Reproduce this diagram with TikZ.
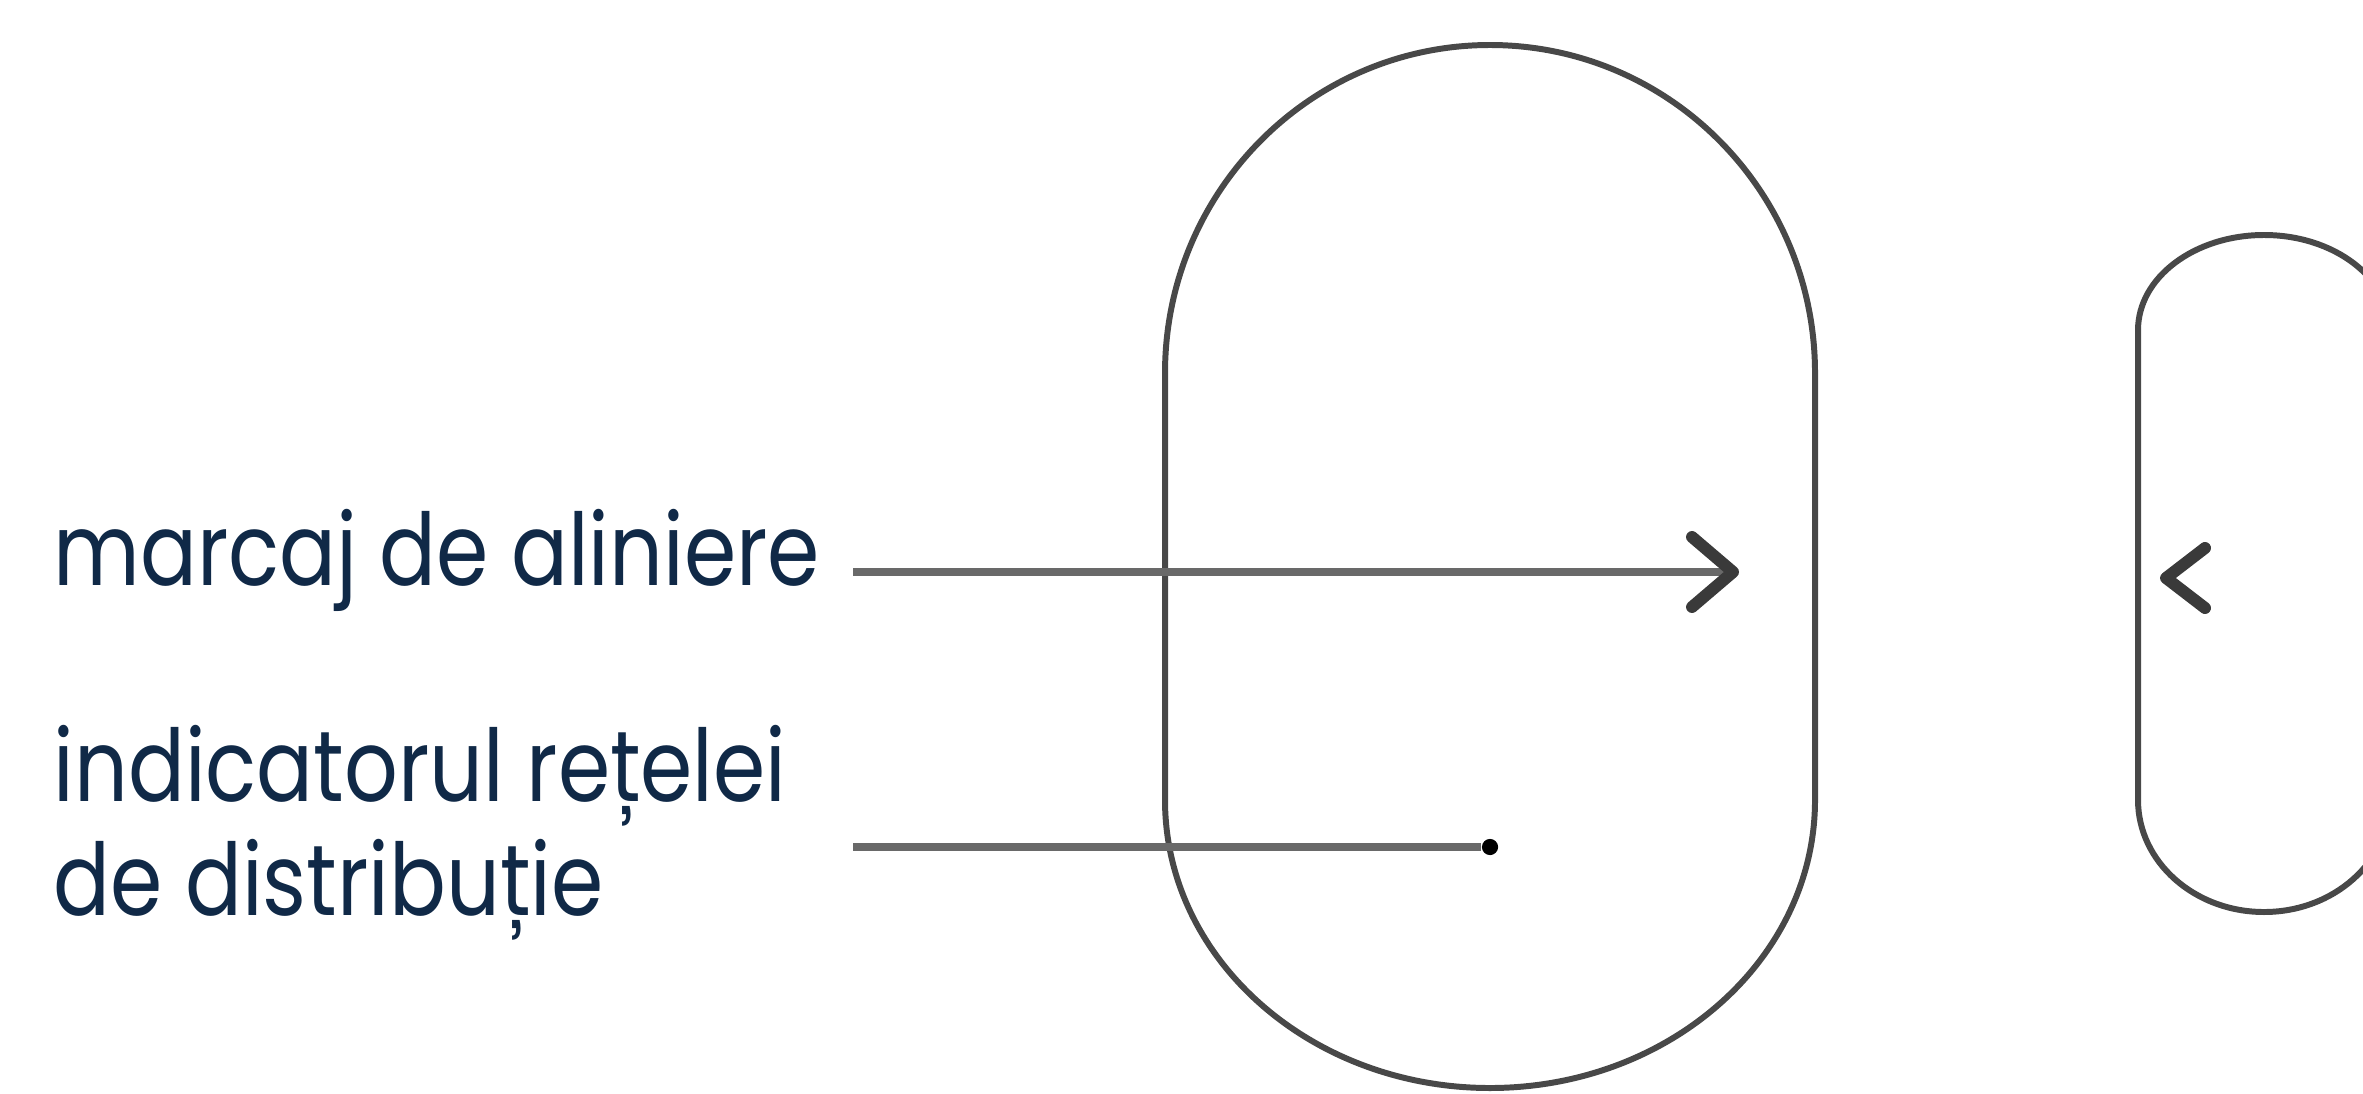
\documentclass[tikz,border=0pt]{standalone}
\usepackage{fontspec}
\setmainfont{Poppins}[FakeStretch=0.84]
\usetikzlibrary{positioning, calc}
\definecolor{labelnavy}{RGB}{16,41,71}
\definecolor{outlinegray}{RGB}{72,72,72}
\definecolor{leadgray}{RGB}{105,105,105}
\definecolor{chevgray}{RGB}{58,58,58}

\begin{document}
\begin{tikzpicture}[x=0.1mm, y=-0.1mm,
  every node/.style={inner sep=0pt},
  labeltext/.style={font=\fontsize{28.5}{32.3}\selectfont, text=labelnavy, align=left, anchor=base west},
  outline/.style={draw=outlinegray, line width=1.7pt},
  lead/.style={draw=leadgray, line width=2.3pt},
  chev/.style={draw=chevgray, line width=3.4pt, line cap=round, line join=round},
  dotend/.style={circle, fill=black, minimum size=4.6pt}]
\clip (0,0) rectangle (2363,1093);

% device outlines
\draw[outline] (1165,373) -- (1165,800)
  arc[start angle=180, end angle=0, x radius=325, y radius=288]
  -- (1815,373)
  arc[start angle=0, end angle=-180, x radius=325, y radius=328] -- cycle;
\draw[outline] (2138,330) -- (2138,800)
  arc[start angle=180, end angle=0, x radius=126, y radius=112]
  -- (2390,330)
  arc[start angle=0, end angle=-180, x radius=126, y radius=95] -- cycle;

% labels
\node[labeltext] (alignlabel) at (53,585) {marcaj de aliniere};
\node[labeltext] (netlabel) at (53,915) {indicatorul rețelei\\de distribuție};

% leader lines
\coordinate (alignstart) at (853,572);
\coordinate (aligntip) at (1733,572);
\coordinate (netstart) at (853,847);
\node[dotend] (netdot) at (1490,847) {};
\draw[lead] (alignstart) -- ($(aligntip)+(-6,0)$);
\draw[chev] ($(aligntip)+(-41,-35)$) -- (aligntip) -- ($(aligntip)+(-41,35)$);
\draw[lead] (netstart) -- (netdot);

% mark on the second part
\coordinate (sidetip) at (2166,578);
\draw[chev] ($(sidetip)+(39,-30)$) -- (sidetip) -- ($(sidetip)+(39,30)$);
\end{tikzpicture}
\end{document}
